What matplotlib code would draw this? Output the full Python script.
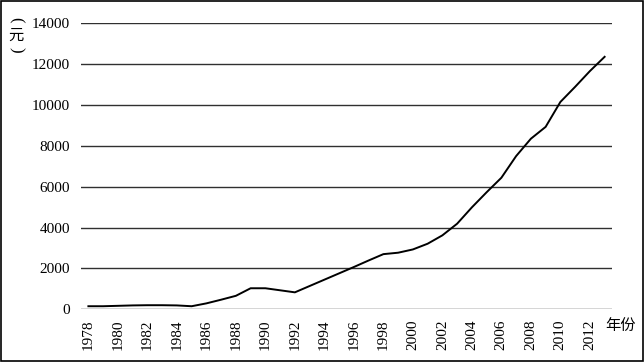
import matplotlib.pyplot as plt
from matplotlib.patches import Rectangle

years = list(range(1978, 2014))
values = [150, 150, 170, 190, 200, 200, 190, 150, 290, 470,
          660, 1030, 1030, 930, 830, 1140, 1450, 1760, 2070, 2390,
          2700, 2770, 2930, 3210, 3620, 4190, 4990, 5730, 6440, 7500,
          8350, 8930, 10150, 10890, 11660, 12360]
y_ticks = [0, 2000, 4000, 6000, 8000, 10000, 12000, 14000]

serif = "Liberation Serif"
cjk = ["Noto Sans CJK SC", "DejaVu Sans"]

fig = plt.figure(figsize=(6.44, 3.62), dpi=100)
ax = fig.add_axes([0.1258, 0.1456, 0.8245, 0.79])

xs = list(range(len(years)))
ax.plot(xs, values, color="black", lw=1.4)

for v in y_ticks:
    ax.axhline(v, color="#303030", lw=1.0, zorder=0)

ax.set_xlim(-0.5, len(years) - 0.5)
ax.set_ylim(0, 14000)
ax.set_yticks(y_ticks)
ax.set_yticklabels([str(v) for v in y_ticks], fontfamily=serif, fontsize=11)
ax.set_xticks(xs[::2])
ax.set_xticklabels([str(y) for y in years[::2]], rotation=90,
                   fontfamily=serif, fontsize=11)
ax.tick_params(length=0)
ax.tick_params(axis="y", pad=8)
ax.tick_params(axis="x", pad=7)
for s in ax.spines.values():
    s.set_visible(False)

# vertical unit label: (元)
fig.text(0.025, 0.945, "(", family=serif, fontsize=12, rotation=-90,
         ha="center", va="center")
fig.text(0.025, 0.903, "元", family=cjk, fontsize=11, ha="center", va="center")
fig.text(0.025, 0.862, ")", family=serif, fontsize=12, rotation=-90,
         ha="center", va="center")
fig.text(0.963, 0.10, "年份", family=cjk, fontsize=11, ha="center", va="center")

fig.patches.append(Rectangle((0.001, 0.002), 0.997, 0.995, transform=fig.transFigure,
                             fill=False, edgecolor="black", lw=1.2))

plt.savefig("out.png", dpi=100)
